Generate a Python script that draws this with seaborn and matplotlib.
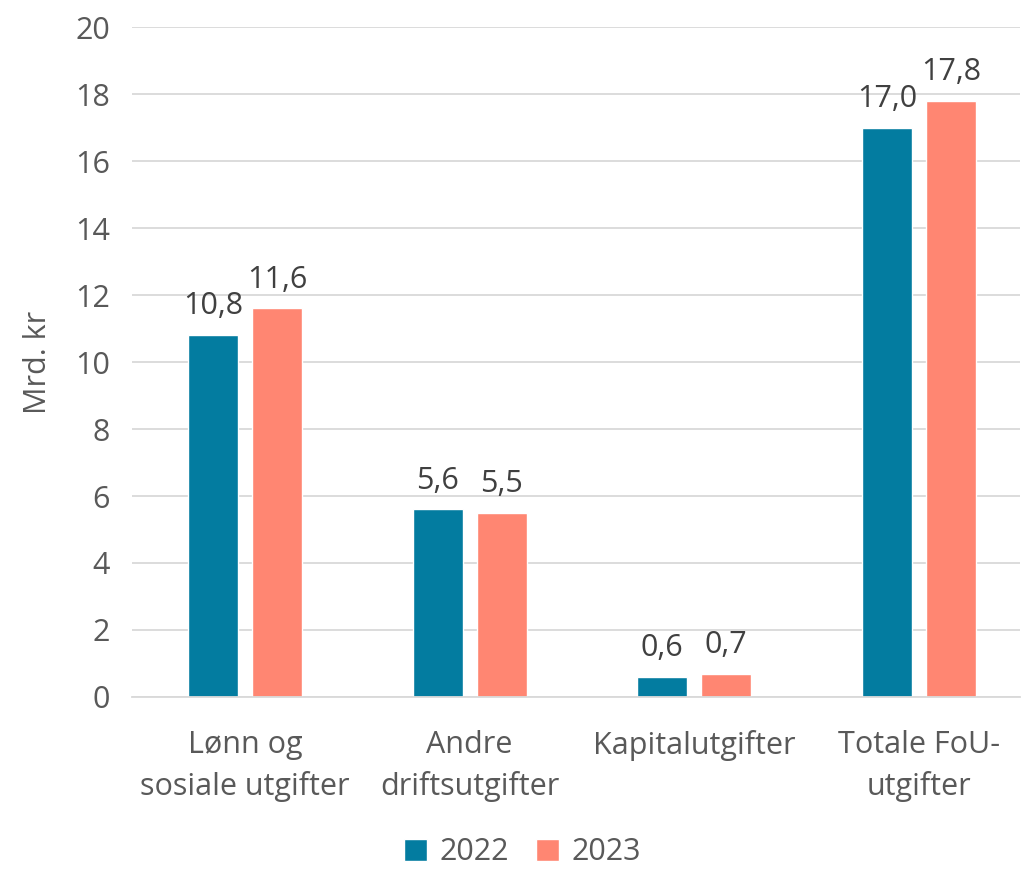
import pandas as pd
import matplotlib.pyplot as plt
import seaborn as sns

categories = ["Lønn og\nsosiale utgifter", "Andre\ndriftsutgifter", "Kapitalutgifter", "Totale FoU-\nutgifter"]
years = ["2022", "2023"]
values_2022 = [10.8, 5.6, 0.6, 17.0]
values_2023 = [11.6, 5.5, 0.7, 17.8]

df = pd.DataFrame({
    "Kategori": categories * 2,
    "År": [years[0]] * 4 + [years[1]] * 4,
    "Verdi": values_2022 + values_2023,
})

sns.set_theme(style="white")
plt.rcParams['font.family'] = ['Open Sans', 'DejaVu Sans']
text_col = "#595959"
fs = 22

fig = plt.figure(figsize=(10.23, 8.72), dpi=100)
ax = fig.add_axes([132 / 1023, 0.2007, 888 / 1023, 0.7683])

sns.barplot(data=df, x="Kategori", y="Verdi", hue="År",
            palette=["#037CA0", "#FF8672"], width=0.57, gap=0.22,
            saturation=1, ax=ax)

for cont in ax.containers:
    ax.bar_label(cont, labels=[f"{v:.1f}".replace(".", ",") for v in cont.datavalues],
                 padding=10, fontsize=fs, color="#404040")

ax.set_ylim(0, 20)
ax.set_xlim(-0.503, 3.45)
ax.set_yticks(range(0, 21, 2))
ax.yaxis.grid(True, color="#D9D9D9", linewidth=1.3)
ax.set_axisbelow(True)
for s in ["top", "right", "left"]:
    ax.spines[s].set_visible(False)
ax.spines["bottom"].set_color("#D9D9D9")
ax.spines["bottom"].set_linewidth(1.3)

ax.tick_params(axis="both", labelsize=fs, colors=text_col, length=0)
ax.tick_params(axis="x", pad=24)
ax.tick_params(axis="y", pad=16)
for lbl in ax.get_xticklabels():
    lbl.set_linespacing(1.45)
ax.set_xlabel("")
ax.set_ylabel("Mrd. kr", fontsize=fs, color=text_col, labelpad=16)

leg = ax.legend(loc="center", bbox_to_anchor=(0.44, -0.232), ncol=2,
                frameon=False, fontsize=fs, handlelength=0.75, handleheight=0.75,
                columnspacing=0.9, handletextpad=0.4, borderpad=0.2)
for t in leg.get_texts():
    t.set_color(text_col)

fig.savefig("out.png", dpi=100)
